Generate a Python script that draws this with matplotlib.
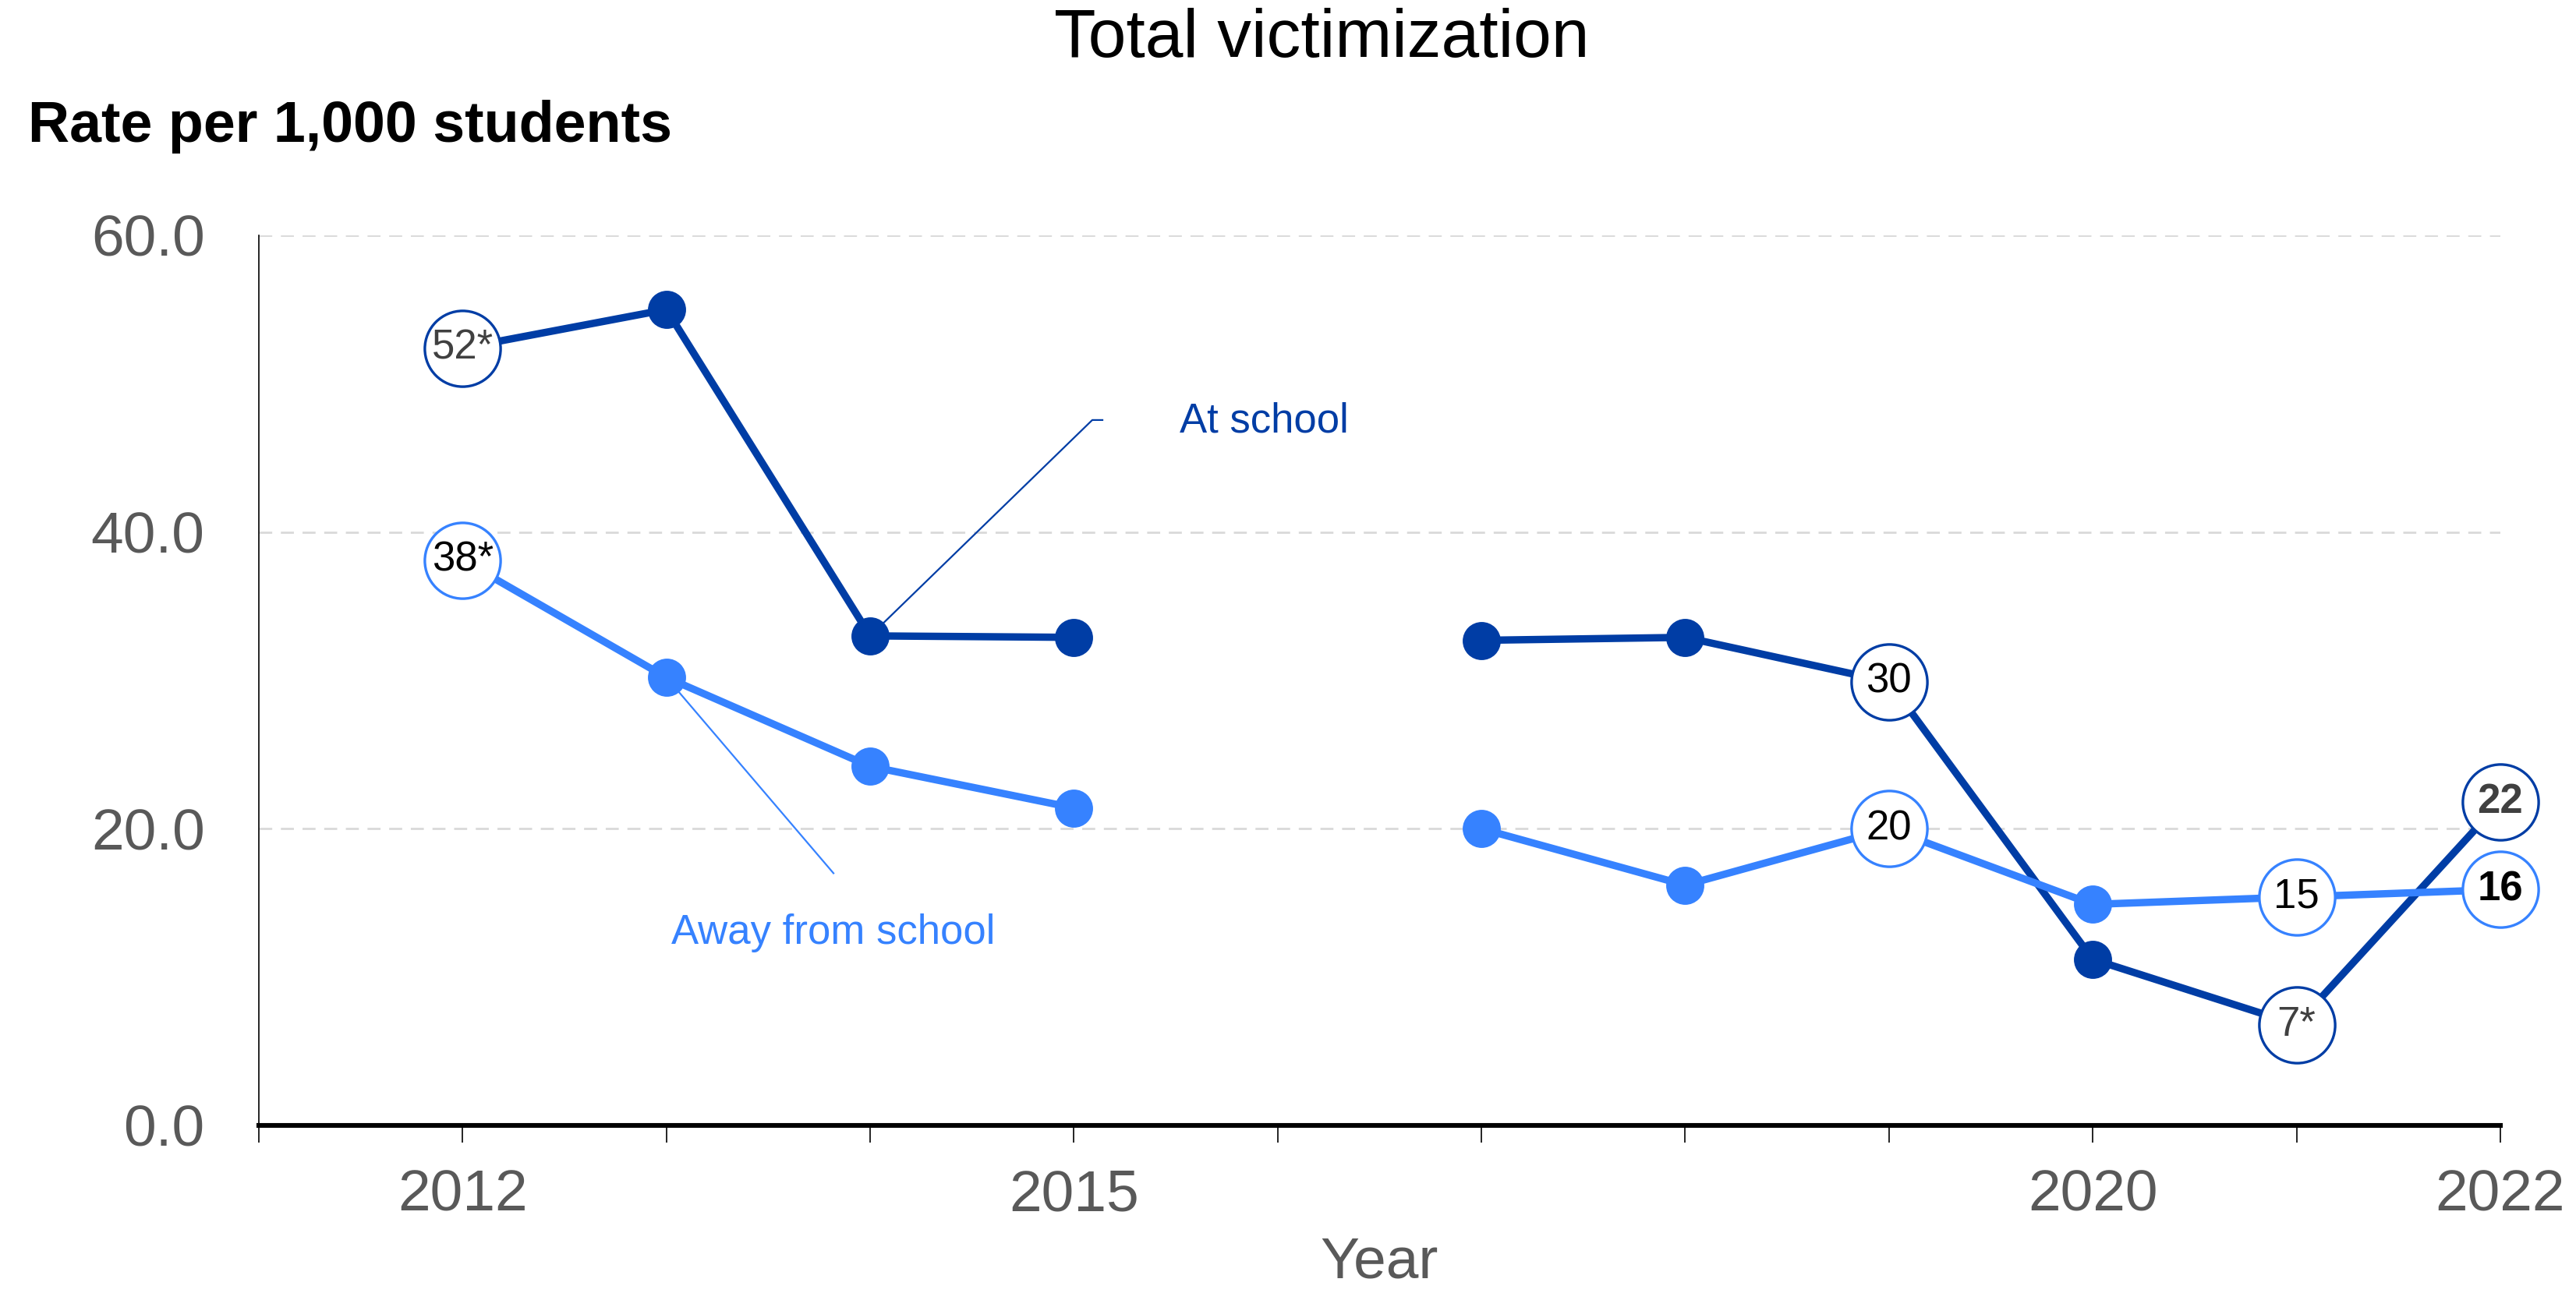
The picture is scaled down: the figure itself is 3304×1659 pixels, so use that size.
import numpy as np
import matplotlib
matplotlib.use('Agg')
import matplotlib.pyplot as plt

# === Data ===
years = [2012, 2013, 2014, 2015, 2016, 2017, 2018, 2019, 2020, 2021, 2022]
at_school = [52.4, 55.0, 33.0, 32.9, np.nan, 32.7, 32.9, 29.9, 11.2, 6.8, 21.8]
away_school = [38.1, 30.2, 24.2, 21.4, np.nan, 20.0, 16.2, 20.0, 14.9, 15.4, 15.9]

# labelled points: (year, value, text, text color, bold)
at_labels = [(2012, 52.4, "52*", "#404040", False),
             (2019, 29.9, "30", "black", False),
             (2021, 6.8, "7*", "#404040", False),
             (2022, 21.8, "22", "#404040", True)]
away_labels = [(2012, 38.1, "38*", "black", False),
               (2019, 20.0, "20", "black", False),
               (2021, 15.4, "15", "black", False),
               (2022, 15.9, "16", "black", True)]

tick_years = list(range(2011, 2023))
shown_years = [2012, 2015, 2020, 2022]

DARK = "#003DA5"
LIGHT = "#3682FF"

plt.rcParams['font.family'] = ['Liberation Sans', 'DejaVu Sans']

fig = plt.figure(figsize=(16.52, 8.295), dpi=200)
ax = fig.add_axes([0.1005, 0.1296, 0.8701, 0.6884])

# gridlines
for gy in [20, 40, 60]:
    ax.axhline(gy, color="#d9d9d9", lw=1.0, ls=(0, (6, 4)), zorder=0)

# series lines with dots
for vals, col in [(at_school, DARK), (away_school, LIGHT)]:
    ax.plot(years, vals, color=col, lw=3.4, marker='o', markersize=17.6,
            markeredgewidth=0, clip_on=False, zorder=3)

# labelled circles
for labels, col in [(at_labels, DARK), (away_labels, LIGHT)]:
    for x, y, txt, tc, bold in labels:
        ax.plot([x], [y], marker='o', markersize=35, markerfacecolor='white',
                markeredgecolor=col, markeredgewidth=1.2, clip_on=False, zorder=4)
        ax.text(x, y, txt, ha='center', va='center', fontsize=19, color=tc,
                fontweight='bold' if bold else 'normal', zorder=5)

# leader lines and series names
ax.plot([2014.0, 2015.09, 2015.14], [33.0, 47.55, 47.55], color=DARK, lw=0.8, zorder=2)
ax.text(2015.52, 47.45, "At school", color=DARK, fontsize=19, ha='left', va='center')
ax.plot([2013.0, 2013.82], [30.2, 17.0], color=LIGHT, lw=0.8, zorder=2)
ax.text(2013.82, 13.0, "Away from school", color=LIGHT, fontsize=19, ha='center', va='center')

# axes
ax.set_xlim(2011, 2022)
ax.set_ylim(0, 60)
ax.set_yticks([0, 20, 40, 60])
ax.set_yticklabels(["0.0", "20.0", "40.0", "60.0"])
ax.set_xticks(tick_years)
ax.set_xticklabels([str(y) if y in shown_years else "" for y in tick_years])
ax.tick_params(axis='y', length=0, pad=25, labelsize=27, labelcolor="#595959")
ax.tick_params(axis='x', length=8, width=0.6, direction='out', pad=12,
               labelsize=27, labelcolor="#595959")
for side in ['top', 'right']:
    ax.spines[side].set_visible(False)
ax.spines['left'].set_linewidth(0.6)
ax.spines['bottom'].set_linewidth(2.2)
ax.set_xlabel("Year", fontsize=27, color="#595959", labelpad=6)

fig.text(0.513, 0.9695, "Total victimization", ha='center', va='center', fontsize=31.5)
fig.text(0.011, 0.902, "Rate per 1,000 students", ha='left', va='center',
         fontsize=26.5, fontweight='bold')

fig.savefig("out.png", dpi=200)
plt.close(fig)
